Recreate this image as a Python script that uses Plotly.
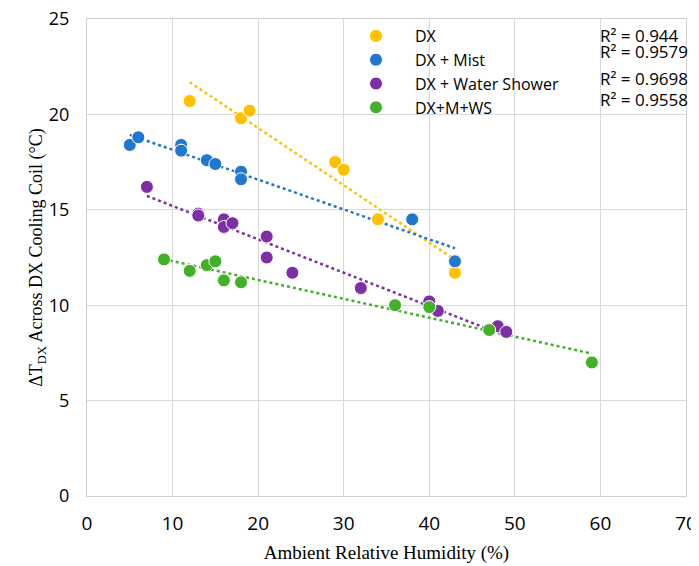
import numpy as np
import plotly.graph_objects as go

dx_x = [12, 18, 19, 29, 30, 34, 43]
dx_y = [20.7, 19.8, 20.2, 17.5, 17.1, 14.5, 11.7]

mist_x = [5, 6, 11, 11, 14, 15, 18, 18, 38, 43]
mist_y = [18.4, 18.8, 18.4, 18.1, 17.6, 17.4, 17.0, 16.6, 14.5, 12.3]

ws_x = [7, 13, 13, 16, 16, 17, 21, 21, 24, 32, 40, 41, 48, 49]
ws_y = [16.2, 14.8, 14.7, 14.5, 14.1, 14.3, 13.6, 12.5, 11.7, 10.9, 10.2, 9.7, 8.9, 8.6]

mws_x = [9, 12, 14, 15, 16, 18, 36, 40, 47, 59]
mws_y = [12.4, 11.8, 12.1, 12.3, 11.3, 11.2, 10.0, 9.9, 8.7, 7.0]

names = ["DX", "DX + Mist", "DX + Water Shower", "DX+M+WS"]
colors = ["#FFC000", "#1F77D0", "#7F2FA6", "#43B02A"]
r2_labels = ["R² = 0.944", "R² = 0.9579", "R² = 0.9698", "R² = 0.9558"]

series = [(dx_x, dx_y), (mist_x, mist_y), (ws_x, ws_y), (mws_x, mws_y)]

# page body has an 8px margin; plot area spans x 87..686, y 19..496 in the window
OFF = 8
PL, PR, PT, PB = 87, 686, 19, 496

fig = go.Figure()
for (xs, ys), name, c in zip(series, names, colors):
    xs_a = np.array(xs, float)
    ys_a = np.array(ys, float)
    m, b = np.polyfit(xs_a, ys_a, 1)
    xl = np.array([xs_a.min(), xs_a.max()])
    fig.add_trace(go.Scatter(x=xl, y=m * xl + b, mode="lines",
                             line=dict(color=c, width=2.5, dash="dot"),
                             showlegend=False, hoverinfo="skip"))
for (xs, ys), name, c in zip(series, names, colors):
    fig.add_trace(go.Scatter(x=xs, y=ys, mode="markers", name=name,
                             marker=dict(color=c, size=13,
                                         line=dict(color="white", width=1))))

r2_y = [35, 52, 79, 100]
for lab, yy in zip(r2_labels, r2_y):
    fig.add_annotation(text=lab, xref="paper", yref="paper",
                       x=(598 - PL) / (PR - PL), y=1 - (yy - PT) / (PB - PT),
                       xanchor="left", yanchor="middle", showarrow=False,
                       font=dict(family="Open Sans, Noto Sans, sans-serif", size=17, color="#000"))

W, H = 699 - OFF, 566 - OFF
fig.update_layout(
    width=W, height=H,
    margin=dict(l=PL - OFF, r=W + OFF - PR, t=PT - OFF, b=H + OFF - PB),
    paper_bgcolor="white", plot_bgcolor="white",
    font=dict(family="Open Sans, Noto Sans, sans-serif", color="#000"),
    legend=dict(x=(337 - PL) / (PR - PL), y=1 - (19 - PT) / (PB - PT),
                xanchor="left", yanchor="top", bgcolor="rgba(0,0,0,0)",
                font=dict(size=16), itemwidth=68, tracegroupgap=0),
    xaxis=dict(range=[0, 70], dtick=10, showgrid=True, gridcolor="#D9D9D9", gridwidth=1.3,
               showline=True, linecolor="#D0D0D0", linewidth=1.3, mirror=True,
               zeroline=False, ticks="",
               tickfont=dict(size=19), automargin=False, ticklabeloverflow="allow",
               ticklabelstandoff=10,
               title=dict(text="Ambient Relative Humidity (%)",
                          font=dict(family="Liberation Serif, Times New Roman, serif", size=19),
                          standoff=10)),
    yaxis=dict(range=[0, 25], dtick=5, showgrid=True, gridcolor="#D9D9D9", gridwidth=1.3,
               showline=True, linecolor="#D0D0D0", linewidth=1.3, mirror=True,
               zeroline=False, ticks="",
               tickfont=dict(size=18), automargin=False, ticklabeloverflow="allow",
               ticklabelstandoff=13,
               title=dict(text="ΔT<sub>DX</sub> Across DX Cooling Coil (°C)",
                          font=dict(family="Liberation Serif, Times New Roman, serif", size=18),
                          standoff=0)),
)

fig.write_html("out.html")
